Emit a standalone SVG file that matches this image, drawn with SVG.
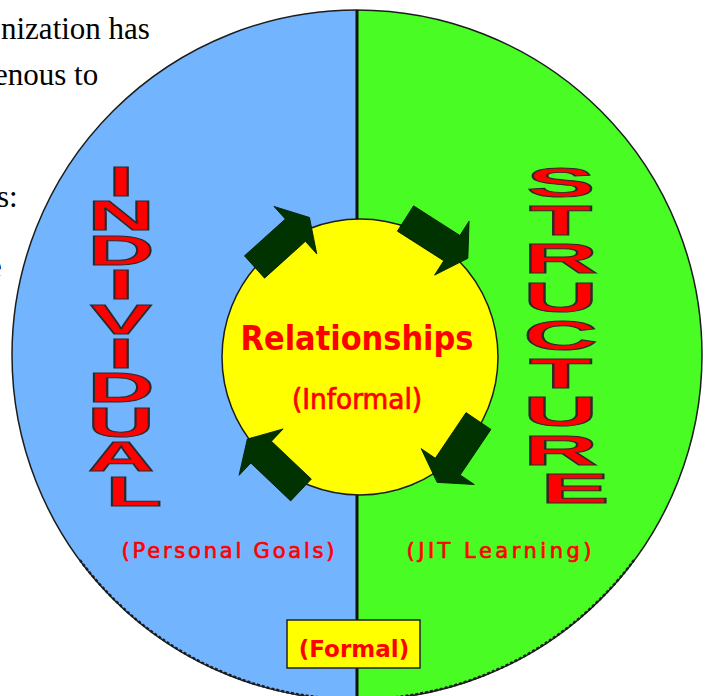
<svg xmlns="http://www.w3.org/2000/svg" width="706" height="696" viewBox="0 0 706 696">
  <style>
    .doc{font-family:"Liberation Serif","Times New Roman",serif;font-size:31px;fill:#000}
    .big{font-family:"Liberation Sans",Arial,sans-serif;font-weight:bold;font-size:42px;fill:#ff0000;stroke:#2a2a2a;stroke-width:1;vector-effect:non-scaling-stroke;text-anchor:middle}
    .lbl{font-family:"DejaVu Sans",Verdana,sans-serif;fill:#ff0000;text-anchor:middle}
    .cond{font-family:"DejaVu Sans Condensed","DejaVu Sans",Verdana,sans-serif;font-stretch:condensed}
    .heavy{stroke:#ff0000;stroke-width:0.7}
    .outline{fill:none;stroke:#1c1c1c;stroke-width:1.5}
    .arrow{fill:#003300;stroke:#001a00;stroke-width:0.8}
  </style>
  <defs>
    <!-- block arrow pointing along +x, origin at the middle of the tail -->
    <path id="blockArrow" d="M0,-15 H55 V-32 L74,0 L55,32 V15 H0 Z"/>
  </defs>

  <rect width="706" height="696" fill="#ffffff"/>

  <!-- surrounding page text -->
  <g id="page-text">
    <text class="doc" x="1" y="39">nization has</text>
    <text class="doc" x="-6" y="85">enous to</text>
    <text class="doc" x="-3" y="207">s:</text>
    <text class="doc" x="-12" y="277">e</text>
  </g>

  <!-- big disc split in two halves -->
  <g id="disc">
    <path d="M357,10 A345,345 0 0 0 357,700 Z" fill="#72b4fd"/>
    <path d="M357,10 A345,345 0 0 1 357,700 Z" fill="#48fc24"/>
    <circle class="outline" cx="357" cy="355" r="345"/>
    <path d="M80,560 A345,345 0 0 0 634,560" fill="none" stroke="#1c1c1c" stroke-width="2.4" stroke-dasharray="3 2"/>
    <line x1="357" y1="10" x2="357" y2="700" stroke="#111" stroke-width="3"/>
  </g>

  <!-- central circle -->
  <g id="node-relationships">
    <circle cx="360" cy="357" r="138" fill="#ffff00" stroke="#1c1c1c" stroke-width="1.5"/>
    <text class="lbl cond" x="357" y="350" font-size="33" font-weight="bold" textLength="233" lengthAdjust="spacingAndGlyphs">Relationships</text>
    <text class="lbl cond heavy" x="357" y="409" font-size="28" textLength="130" lengthAdjust="spacingAndGlyphs">(Informal)</text>
  </g>

  <!-- clockwise arrows around the centre -->
  <g id="connectors" class="arrow">
    <use href="#blockArrow" transform="translate(254.5,267) rotate(-42)"/>
    <use href="#blockArrow" transform="translate(405.5,218.5) rotate(32.6)"/>
    <use href="#blockArrow" transform="translate(478.5,421) rotate(124)"/>
    <use href="#blockArrow" transform="translate(301,490) rotate(-136.5)"/>
  </g>

  <!-- left half: INDIVIDUAL -->
  <g id="node-individual">
    <text class="big" transform="translate(134,0) scale(2.2,1)">
      <tspan x="0" y="196">I</tspan>
      <tspan x="0" y="230.4">N</tspan>
      <tspan x="0" y="264.8">D</tspan>
      <tspan x="0" y="299.2">I</tspan>
      <tspan x="0" y="333.6">V</tspan>
      <tspan x="0" y="368">I</tspan>
      <tspan x="0" y="402.4">D</tspan>
      <tspan x="0" y="436.8">U</tspan>
      <tspan x="0" y="471.2">A</tspan>
      <tspan x="0" y="505.6">L</tspan>
    </text>
    <text class="lbl heavy" x="228" y="558" font-size="21" textLength="213" lengthAdjust="spacing">(Personal Goals)</text>
  </g>

  <!-- right half: STRUCTURE -->
  <g id="node-structure">
    <text class="big" transform="translate(575,0) scale(2.45,1)">
      <tspan x="0" y="197">S</tspan>
      <tspan x="0" y="235.25">T</tspan>
      <tspan x="0" y="273.5">R</tspan>
      <tspan x="0" y="311.75">U</tspan>
      <tspan x="0" y="350">C</tspan>
      <tspan x="0" y="388.25">T</tspan>
      <tspan x="0" y="426.5">U</tspan>
      <tspan x="0" y="464.75">R</tspan>
      <tspan x="0" y="503">E</tspan>
    </text>
    <text class="lbl heavy" x="499" y="558" font-size="21" textLength="185" lengthAdjust="spacing">(JIT Learning)</text>
  </g>

  <!-- formal label on the divider -->
  <g id="node-formal">
    <rect x="287" y="620" width="133" height="48" fill="#ffff00" stroke="#222" stroke-width="1.5"/>
    <text class="lbl" x="354" y="657" font-size="23" font-weight="bold">(Formal)</text>
  </g>
</svg>
